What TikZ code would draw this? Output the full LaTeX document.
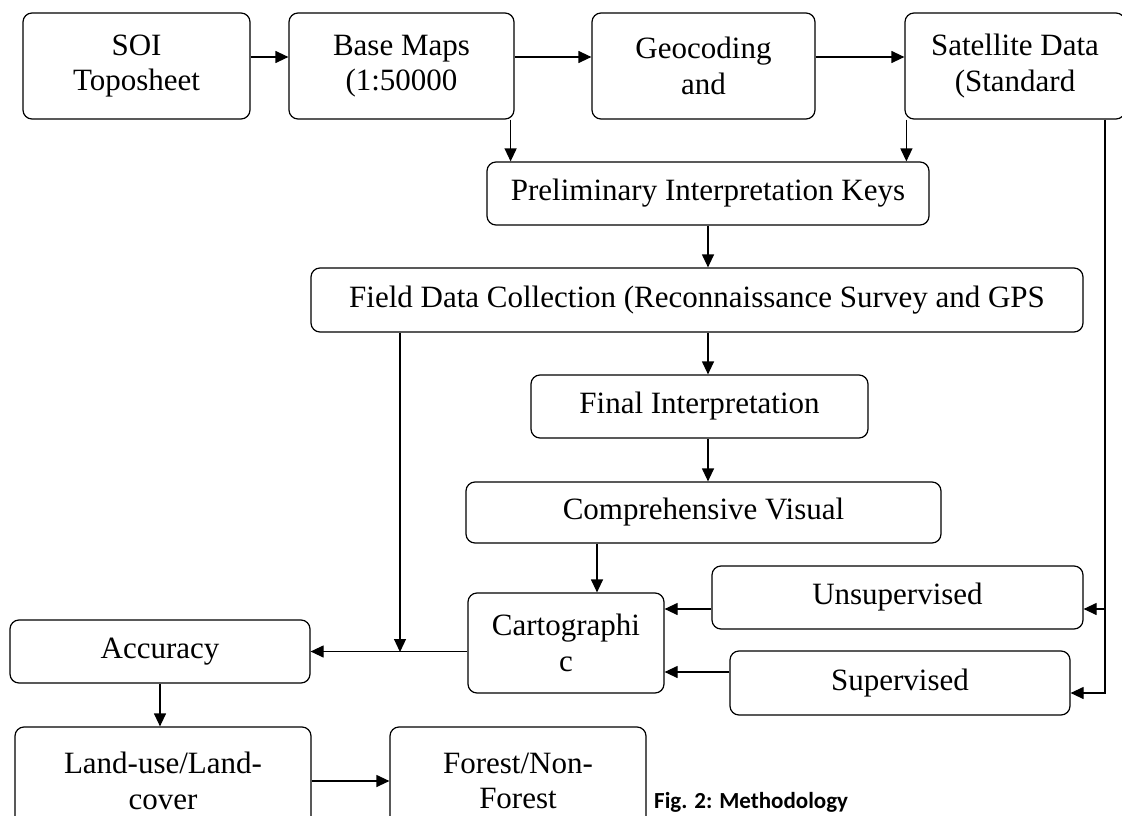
\documentclass[tikz,border=0pt]{standalone}
\usepackage{fontspec}
\setmainfont{Liberation Serif}
\newfontfamily\capfont{Carlito}
\usetikzlibrary{arrows.meta}

\begin{document}
\begin{tikzpicture}[x=1pt,y=-1pt,
	stepbox/.style={draw,line width=1.2pt,rounded corners=9pt,inner sep=0pt,align=center,
		font=\fontsize{31pt}{35.5pt}\selectfont},
	arr/.style={line width=1.2pt,-{Triangle[length=13pt,width=12pt]}}]
	\useasboundingbox (0,0) rectangle (1122,816);
	% top row
	\node[stepbox,minimum width=227,minimum height=106] (soi) at (136.5,66) {SOI\\Toposheet};
	\node[stepbox,minimum width=225,minimum height=106] (base) at (401.5,66) {Base Maps\\(1:50000};
	\node[stepbox,minimum width=223,minimum height=106] (geo) at (703.5,66) {Geocoding\\and};
	\node[stepbox,minimum width=220,minimum height=106] (sat) at (1015,66) {Satellite Data\\(Standard};
	% middle column
	\node[stepbox,minimum width=442,minimum height=63] (prelim) at (708,193.5) {Preliminary Interpretation Keys};
	\node[stepbox,minimum width=772,minimum height=64] (field) at (697,300) {Field Data Collection (Reconnaissance Survey and GPS};
	\node[stepbox,minimum width=337,minimum height=63] (final) at (699.5,406.5) {Final Interpretation};
	\node[stepbox,minimum width=475,minimum height=61] (comp) at (703.5,512.5) {Comprehensive Visual};
	\node[stepbox,minimum width=196,minimum height=100] (carto) at (566,643) {Cartographi\\c};
	\node[stepbox,minimum width=371,minimum height=63] (unsup) at (897.5,597.5) {Unsupervised};
	\node[stepbox,minimum width=340,minimum height=64] (sup) at (900,683) {Supervised};
	% bottom left
	\node[stepbox,minimum width=300,minimum height=63] (acc) at (160,651.5) {Accuracy};
	\node[stepbox,minimum width=296,minimum height=108] (land) at (163,781) {Land-use/Land-\\cover};
	\node[stepbox,minimum width=256,minimum height=108] (forest) at (518,781) {Forest/Non-\\Forest};
	\node[anchor=base west,inner sep=0pt,font=\capfont\bfseries\fontsize{23pt}{27pt}\selectfont] (cap) at (654,808) {Fig. 2: Methodology};

	% connectors
	\draw[arr] ([yshift=9pt]soi.east) -- ([yshift=9pt]base.west);
	\draw[arr] ([yshift=9pt]base.east) -- ([yshift=9pt]geo.west);
	\draw[arr] ([yshift=9pt]geo.east) -- ([yshift=9pt]sat.west);
	\coordinate (bm) at ([xshift=-4pt]base.south east);
	\coordinate (sd) at ([xshift=2pt]sat.south west);
	\draw[arr] (bm) -- (bm |- prelim.north);
	\draw[arr] (sd) -- (sd |- prelim.north);
	\draw[arr] (prelim.south) -- (prelim.south |- field.north);
	\draw[arr] (prelim.south |- field.south) -- (prelim.south |- final.north);
	\draw[arr] (prelim.south |- final.south) -- (prelim.south |- comp.north);
	\coordinate (cv) at (597,0);
	\draw[arr] (cv |- comp.south) -- (cv |- carto.north);
	\coordinate (ua) at (0,609);
	\coordinate (sa) at (0,672);
	\draw[arr] (unsup.west |- ua) -- (carto.east |- ua);
	\draw[arr] (sup.west |- sa) -- (carto.east |- sa);
	\draw[arr] (carto.west |- acc.east) -- (acc.east);
	\coordinate (fj) at (400,652);
	\draw[arr] (fj |- field.south) -- (fj);
	% right feed line
	\coordinate (rl) at (1105,0);
	\coordinate (sb) at (0,693);
	\draw[line width=1.2pt] (rl |- sat.south) -- (rl |- ua);
	\draw[arr] (rl |- ua) -- (unsup.east |- ua);
	\draw[arr] (rl |- ua) |- (sup.east |- sb);
	\draw[arr] (acc.south) -- (acc.south |- land.north);
	\draw[arr] (land.east) -- (forest.west);
\end{tikzpicture}
\end{document}
